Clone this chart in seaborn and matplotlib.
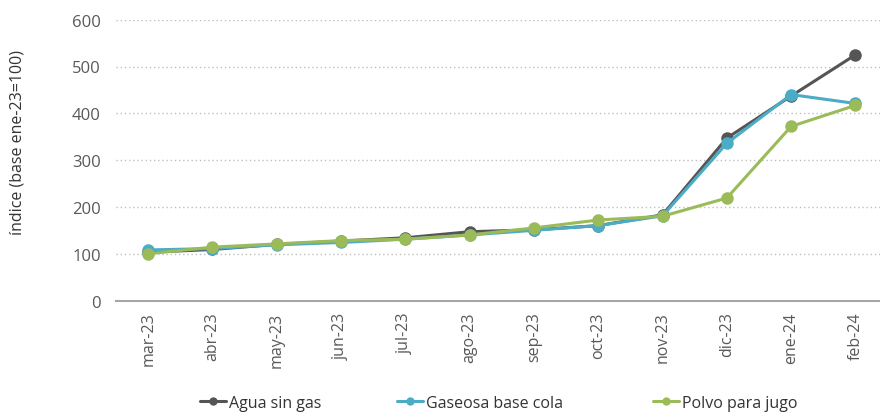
import numpy as np
import pandas as pd
import matplotlib.pyplot as plt
import seaborn as sns

sns.set_style("white")
plt.rcParams["font.family"] = ["Open Sans", "DejaVu Sans"]

meses = ["mar-23", "abr-23", "may-23", "jun-23", "jul-23", "ago-23",
         "sep-23", "oct-23", "nov-23", "dic-23", "ene-24", "feb-24"]
agua = [103, 109, 120, 127, 134, 147, 151, 160, 183, 347, 437, 525]
gaseosa = [108, 111, 119, 124, 131, 140, 150, 160, 181, 336, 440, 421]
polvo = [100, 114, 121, 128, 131, 140, 155, 172, 180, 219, 372, 417]
series = ["Agua sin gas", "Gaseosa base cola", "Polvo para jugo"]
colores = ["#555555", "#4bacc6", "#9bbb59"]

df = pd.DataFrame({
    "mes": meses * 3,
    "valor": agua + gaseosa + polvo,
    "serie": [s for s in series for _ in meses],
})

fig = plt.figure(figsize=(8.8, 4.14), dpi=100)
ax = fig.add_axes([116 / 880, 112.5 / 414, 771.6 / 880, 280.8 / 414])

sns.lineplot(data=df, x="mes", y="valor", hue="serie", palette=colores,
             marker="o", markersize=9, markeredgewidth=0, linewidth=2.2,
             sort=False, ax=ax)

ax.set_xlim(-0.5, 11.5)
ax.set_ylim(0, 600)
ax.set_yticks(range(0, 601, 100))
ax.set_xticks(range(len(meses)))
ax.set_xticklabels(meses, rotation=90)
ax.set_xticks(np.arange(-0.5, 12, 1), minor=True)
ax.tick_params(axis="x", which="major", length=0, pad=8, labelsize=11.5, labelcolor="#595959")
ax.tick_params(axis="x", which="minor", length=6, width=1.2, color="#a6a6a6", direction="out")
ax.tick_params(axis="y", length=0, pad=11, labelsize=12, labelcolor="#595959")
ax.grid(axis="y", linestyle=(0, (1, 2)), color="#bfbfbf", linewidth=1)
ax.set_axisbelow(True)
for s in ["top", "right", "left"]:
    ax.spines[s].set_visible(False)
ax.spines["bottom"].set_color("#a6a6a6")
ax.spines["bottom"].set_linewidth(1.5)
ax.set_xlabel("")
ax.set_ylabel("índice (base ene-23=100)", fontsize=11.5, color="#333333")
ax.yaxis.set_label_coords(-0.117, 0.568)

handles, labels = ax.get_legend_handles_labels()
ax.get_legend().remove()
# one legend per entry, placed where the reference puts them
for h, lab, x0 in zip(handles, labels, [200, 397, 653]):
    h.set_markersize(6)
    fig.legend([h], [lab], loc="center left", bbox_to_anchor=(x0 / 880, 0.025),
               frameon=False, fontsize=11.5, handlelength=1.6, handletextpad=0.2,
               borderpad=0, borderaxespad=0, labelcolor="#333333")

fig.savefig("out.png", dpi=100)
